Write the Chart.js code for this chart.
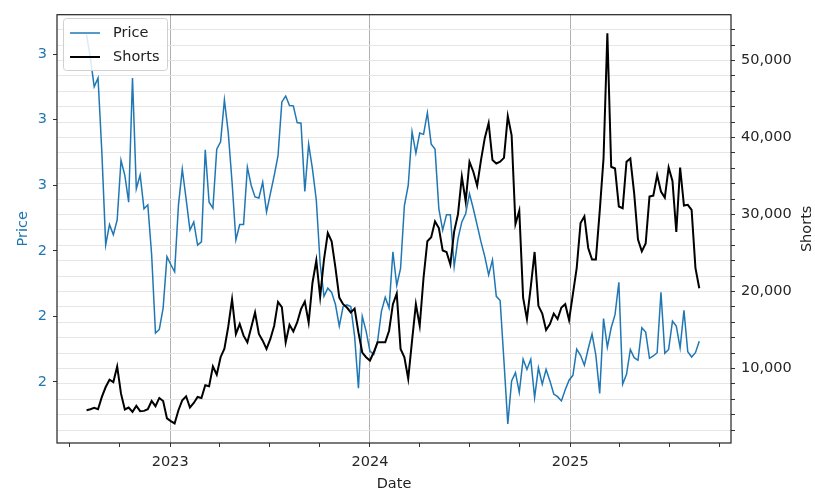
<!DOCTYPE html>
<html lang="en">
<head>
<meta charset="UTF-8">
<title>Price vs Shorts</title>
<script src="https://cdn.jsdelivr.net/npm/chart.js"></script>
<style>
  html, body { margin: 0; padding: 0; background: #fff; }
</style>
</head>
<body>
<canvas id="chart" width="815" height="494"></canvas>
<script>
// weekly observations starting on this date
const firstWeek = '2022-08-01';

const priceValues = [
  3.059, 2.988, 2.900, 2.927, 2.700, 2.418, 2.480, 2.449, 2.494, 2.676,
  2.630, 2.548, 2.927, 2.589, 2.631, 2.528, 2.540, 2.388, 2.149, 2.160,
  2.225, 2.382, 2.358, 2.336, 2.539, 2.649, 2.558, 2.463, 2.488, 2.417,
  2.427, 2.708, 2.548, 2.530, 2.710, 2.732, 2.860, 2.761, 2.609, 2.433,
  2.480, 2.480, 2.655, 2.599, 2.564, 2.561, 2.609, 2.518, 2.574, 2.629,
  2.690, 2.854, 2.872, 2.843, 2.842, 2.791, 2.789, 2.581, 2.725, 2.649,
  2.554, 2.361, 2.261, 2.286, 2.273, 2.236, 2.170, 2.230, 2.235, 2.230,
  2.139, 1.981, 2.200, 2.155, 2.094, 2.084, 2.124, 2.215, 2.258, 2.225,
  2.397, 2.294, 2.346, 2.538, 2.599, 2.763, 2.698, 2.759, 2.755, 2.821,
  2.725, 2.710, 2.528, 2.463, 2.510, 2.510, 2.352, 2.437, 2.488, 2.513,
  2.574, 2.528, 2.478, 2.427, 2.382, 2.326, 2.372, 2.261, 2.248, 2.063,
  1.872, 2.003, 2.028, 1.968, 2.069, 2.038, 2.069, 1.952, 2.043, 1.993,
  2.038, 2.003, 1.963, 1.955, 1.942, 1.976, 2.005, 2.020, 2.100, 2.081,
  2.051, 2.101, 2.146, 2.081, 1.965, 2.193, 2.106, 2.165, 2.205, 2.304,
  1.993, 2.023, 2.099, 2.074, 2.066, 2.165, 2.152, 2.072, 2.079, 2.089,
  2.273, 2.087, 2.099, 2.185, 2.170, 2.104, 2.218, 2.092, 2.076, 2.089,
  2.124
];

const shortsValues = [
  4580, 4710, 4880, 4710, 6300, 7590, 8540, 8230, 10260, 6730,
  4670, 4930, 4360, 5140, 4450, 4490, 4710, 5780, 5100, 6170,
  5780, 3510, 3160, 2860, 4580, 5870, 6390, 4930, 5520, 6300,
  6170, 7810, 7680, 10260, 9190, 11460, 12580, 15420, 18990, 14480,
  15770, 14260, 13390, 15330, 17270, 14480, 13610, 12540, 13830, 15550,
  18640, 17970, 13390, 15680, 14810, 15970, 17700, 18680, 15970, 21130,
  24020, 19290, 24150, 27590, 26520, 23070, 19200, 18350, 17910, 17270,
  17780, 14680, 12070, 11460, 11030, 12100, 13390, 13390, 13390, 14900,
  18350, 19720, 12540, 11460, 8670, 13610, 18350, 15550, 21780, 26520,
  27030, 29100, 28230, 25320, 25130, 23510, 27810, 30040, 34900, 31680,
  36840, 35550, 33740, 37060, 39940, 41870, 37060, 36620, 36840, 37350,
  42770, 40280, 28750, 30480, 19200, 16410, 20580, 25130, 18130, 17130,
  14990, 15770, 17130, 16410, 17910, 18350, 16280, 19640, 23070, 28880,
  29740, 25650, 24150, 24150, 30390, 37260, 53520, 36190, 35970, 31030,
  30810, 36840, 37260, 32750, 26730, 25210, 26220, 32320, 32450, 35120,
  32970, 32190, 36100, 34350, 27720, 36100, 31160, 31250, 30600, 23070,
  20410
];

// x axis: quarterly ticks, only the year starts get a label
const xTickDates = [
  '2022-07-01', '2022-10-01', '2023-01-01', '2023-04-01', '2023-07-01', '2023-10-01',
  '2024-01-01', '2024-04-01', '2024-07-01', '2024-10-01', '2025-01-01', '2025-04-01',
  '2025-07-01', '2025-10-01'
];
const xLabelDates = ['2023-01-01', '2024-01-01', '2025-01-01'];
const xRange = ['2022-06-08', '2025-10-22'];

const priceTicks = [2.0, 2.2, 2.4, 2.6, 2.8, 3.0];
const priceRange = [1.8136, 3.12];
const shortsTicks = [2000, 4000, 6000, 8000, 10000, 12000, 14000, 16000, 18000, 20000,
  22000, 24000, 26000, 28000, 30000, 32000, 34000, 36000, 38000, 40000,
  42000, 44000, 46000, 48000, 50000, 52000, 54000];
const shortsLabelTicks = [10000, 20000, 30000, 40000, 50000];
const shortsRange = [320, 55940];

const DAY = 86400000;
const toMs = s => Date.parse(s + 'T00:00:00Z');
const start = toMs(firstWeek);
const weekX = priceValues.map((_, i) => start + i * 7 * DAY);
const xLabelMs = xLabelDates.map(toMs);

const FONT = 'DejaVu Sans';
const FS = 14.5;
Chart.defaults.font.family = FONT;
Chart.defaults.font.size = FS;

const frameAndLegend = {
    id: 'frameAndLegend',
    afterDraw(chart) {
        const ctx = chart.ctx;
        const a = chart.chartArea;
        ctx.save();
        // axes frame
        ctx.strokeStyle = '#222';
        ctx.lineWidth = 1.2;
        ctx.strokeRect(a.left, a.top, a.right - a.left, a.bottom - a.top);

        // legend box, top-left inside the plot
        const bx = 63.5, by = 18.5, bw = 104, bh = 52, r = 3;
        ctx.beginPath();
        ctx.roundRect(bx, by, bw, bh, r);
        ctx.fillStyle = 'rgba(255,255,255,0.85)';
        ctx.fill();
        ctx.strokeStyle = '#d0d0d0';
        ctx.lineWidth = 1;
        ctx.stroke();

        chart.data.datasets.forEach((ds, i) => {
            const y = 33 + i * 24;
            ctx.beginPath();
            ctx.moveTo(70, y);
            ctx.lineTo(100, y);
            ctx.strokeStyle = ds.borderColor;
            ctx.lineWidth = ds.borderWidth;
            ctx.stroke();
            ctx.fillStyle = '#222';
            ctx.font = FS + 'px "' + FONT + '"';
            ctx.textAlign = 'left';
            ctx.textBaseline = 'middle';
            ctx.fillText(ds.label, 113, y);
        });

        // right axis title reads bottom to top like the left one
        ctx.translate(807, (a.top + a.bottom) / 2);
        ctx.rotate(-Math.PI / 2);
        ctx.textAlign = 'center';
        ctx.textBaseline = 'middle';
        ctx.fillStyle = '#222';
        ctx.fillText('Shorts', 0, 0);
        ctx.restore();
    }
};

new Chart(document.getElementById('chart'), {
    type: 'line',
    data: {
        datasets: [{
            label: 'Price',
            data: priceValues.map((v, i) => ({ x: weekX[i], y: v })),
            yAxisID: 'yPrice',
            borderColor: '#1f77b4',
            borderWidth: 1.5,
            pointRadius: 0,
            tension: 0,
            order: 1
        }, {
            label: 'Shorts',
            data: shortsValues.map((v, i) => ({ x: weekX[i], y: v })),
            yAxisID: 'yShorts',
            borderColor: '#000000',
            borderWidth: 2,
            pointRadius: 0,
            tension: 0,
            order: 0
        }]
    },
    options: {
        responsive: false,
        animation: false,
        layout: { padding: { top: 12, left: 0, right: 0, bottom: 0 } },
        plugins: { legend: { display: false }, tooltip: { enabled: false } },
        scales: {
            x: {
                type: 'linear',
                min: toMs(xRange[0]),
                max: toMs(xRange[1]),
                afterBuildTicks: s => { s.ticks = xTickDates.map(d => ({ value: toMs(d) })); },
                afterFit: s => { s.height = 51; },
                ticks: {
                    autoSkip: false,
                    maxRotation: 0,
                    padding: 7,
                    color: '#262626',
                    callback: v => xLabelMs.includes(v) ? String(new Date(v).getUTCFullYear()) : ''
                },
                grid: {
                    color: c => (c.tick && xLabelMs.includes(c.tick.value)) ? '#b0b0b0' : 'rgba(0,0,0,0)',
                    tickColor: '#333',
                    tickLength: 4,
                    lineWidth: 1
                },
                border: { display: false },
                title: { display: true, text: 'Date', color: '#222', padding: { top: 0, bottom: 1 } }
            },
            yPrice: {
                position: 'left',
                min: priceRange[0],
                max: priceRange[1],
                afterBuildTicks: s => { s.ticks = priceTicks.map(v => ({ value: v })); },
                afterFit: s => { s.width = 57; },
                ticks: {
                    autoSkip: false,
                    padding: 6,
                    color: '#1f77b4',
                    callback: v => String(Math.round(v))
                },
                grid: { drawOnChartArea: false, tickColor: '#333', tickLength: 4 },
                border: { display: false },
                title: { display: true, text: 'Price', color: '#1f77b4', padding: { top: 15, bottom: 0 } }
            },
            yShorts: {
                position: 'right',
                min: shortsRange[0],
                max: shortsRange[1],
                afterBuildTicks: s => { s.ticks = shortsTicks.map(v => ({ value: v })); },
                afterFit: s => { s.width = 84; },
                ticks: {
                    autoSkip: false,
                    padding: 6,
                    color: '#262626',
                    callback: v => shortsLabelTicks.includes(v) ? v.toLocaleString('en-US') : ''
                },
                grid: { color: '#e6e6e6', lineWidth: 1, tickColor: '#333', tickLength: 4 },
                border: { display: false },
                title: { display: false }
            }
        }
    },
    plugins: [frameAndLegend]
});
</script>
</body>
</html>
